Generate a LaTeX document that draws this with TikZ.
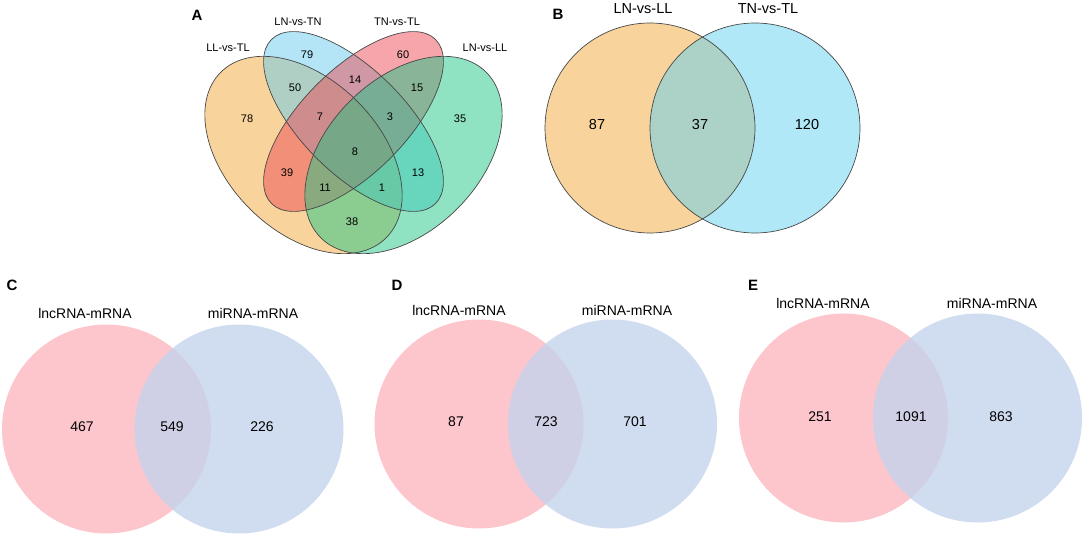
\documentclass[tikz,border=0pt]{standalone}
\usepackage{fontspec}
\setmainfont{Liberation Sans}
\definecolor{laranja}{HTML}{F1A93A}
\definecolor{azul}{HTML}{67CBEF}
\definecolor{vermelho}{HTML}{ED4B55}
\definecolor{verde}{HTML}{20C585}
\definecolor{azulB}{HTML}{61D1F1}
\definecolor{rosa}{HTML}{FCC6CC}
\definecolor{lilas}{HTML}{C4D3EC}
\definecolor{linha}{HTML}{474747}
\begin{document}
\begin{tikzpicture}[x=1pt, y=-1pt,
            contorno/.style={draw=linha, line width=0.7pt},
            transp/.style={fill opacity=0.5},
            rotuloA/.style={font=\fontsize{11}{13}\selectfont},
            rotuloB/.style={font=\fontsize{14.5}{17}\selectfont},
            rotuloC/.style={font=\fontsize{14}{16}\selectfont},
            letra/.style={font=\fontsize{15}{17}\selectfont\bfseries},
        ]
        \useasboundingbox (0,0) rectangle (1084,537);

        % painel A
        \fill[laranja, transp, shift={(303.5,155)}, rotate=-45] (0,0) ellipse (117 and 76);
        \fill[azul, transp, shift={(353.5,121.5)}, rotate=-45] (0,0) ellipse (116 and 52);
        \fill[vermelho, transp, shift={(353.5,121.5)}, rotate=45] (0,0) ellipse (116 and 52);
        \fill[verde, transp, shift={(403.5,155)}, rotate=45] (0,0) ellipse (117 and 76);
        \draw[contorno, shift={(303.5,155)}, rotate=-45] (0,0) ellipse (117 and 76);
        \draw[contorno, shift={(353.5,121.5)}, rotate=-45] (0,0) ellipse (116 and 52);
        \draw[contorno, shift={(353.5,121.5)}, rotate=45] (0,0) ellipse (116 and 52);
        \draw[contorno, shift={(403.5,155)}, rotate=45] (0,0) ellipse (117 and 76);
        \node[letra] (la) at (197,15) {A};
        \node[rotuloA] (llt) at (228,48) {LL-vs-TL};
        \node[rotuloA] (lnt) at (298,22) {LN-vs-TN};
        \node[rotuloA] (tnt) at (397,22) {TN-vs-TL};
        \node[rotuloA] (lnl) at (485,48) {LN-vs-LL};
        \node[rotuloA] (a79) at (307,55) {79};
        \node[rotuloA] (a60) at (403,55) {60};
        \node[rotuloA] (a50) at (295,88) {50};
        \node[rotuloA] (a14) at (355,80) {14};
        \node[rotuloA] (a15) at (417,88) {15};
        \node[rotuloA] (a78) at (247,119) {78};
        \node[rotuloA] (a7) at (320,117) {7};
        \node[rotuloA] (a3) at (390,117) {3};
        \node[rotuloA] (a35) at (460,119) {35};
        \node[rotuloA] (a8) at (355,152) {8};
        \node[rotuloA] (a39) at (287,173) {39};
        \node[rotuloA] (a13) at (418,173) {13};
        \node[rotuloA] (a11) at (325,188) {11};
        \node[rotuloA] (a1) at (382,188) {1};
        \node[rotuloA] (a38) at (352,222) {38};

        % painel B
        \fill[laranja, transp] (650,128) circle (105);
        \fill[azulB, transp] (755,128) circle (105);
        \draw[contorno] (650,128) circle (105);
        \draw[contorno] (755,128) circle (105);
        \node[letra] (lb) at (558,14) {B};
        \node[rotuloB] (lnll) at (643,9) {LN-vs-LL};
        \node[rotuloB] (tntl) at (768,9) {TN-vs-TL};
        \node[rotuloB] (b87) at (597,125) {87};
        \node[rotuloB] (b37) at (700,125) {37};
        \node[rotuloB] (b120) at (807,125) {120};

        % painel C
        \fill[rosa] (106.5,429) circle (104.5);
        \fill[lilas, fill opacity=0.8] (239,429) circle (104.5);
        \node[letra] (lc) at (12,285) {C};
        \node[rotuloC] (clnc) at (85,313) {lncRNA-mRNA};
        \node[rotuloC] (cmir) at (253,313) {miRNA-mRNA};
        \node[rotuloC] (c467) at (82,427) {467};
        \node[rotuloC] (c549) at (172,427) {549};
        \node[rotuloC] (c226) at (262,427) {226};

        % painel D
        \fill[rosa] (479,424) circle (104.5);
        \fill[lilas, fill opacity=0.8] (612.5,424) circle (104.5);
        \node[letra] (ld) at (397,285) {D};
        \node[rotuloC] (dlnc) at (459,310) {lncRNA-mRNA};
        \node[rotuloC] (dmir) at (627,310) {miRNA-mRNA};
        \node[rotuloC] (d87) at (456,422) {87};
        \node[rotuloC] (d723) at (546,422) {723};
        \node[rotuloC] (d701) at (635,422) {701};

        % painel E
        \fill[rosa] (843.5,418) circle (104.5);
        \fill[lilas, fill opacity=0.8] (977.5,418) circle (104.5);
        \node[letra] (le) at (753,285) {E};
        \node[rotuloC] (elnc) at (823,303) {lncRNA-mRNA};
        \node[rotuloC] (emir) at (992,303) {miRNA-mRNA};
        \node[rotuloC] (e251) at (820,417) {251};
        \node[rotuloC] (e1091) at (911,417) {1091};
        \node[rotuloC] (e863) at (1001,417) {863};

    \end{tikzpicture}
\end{document}
